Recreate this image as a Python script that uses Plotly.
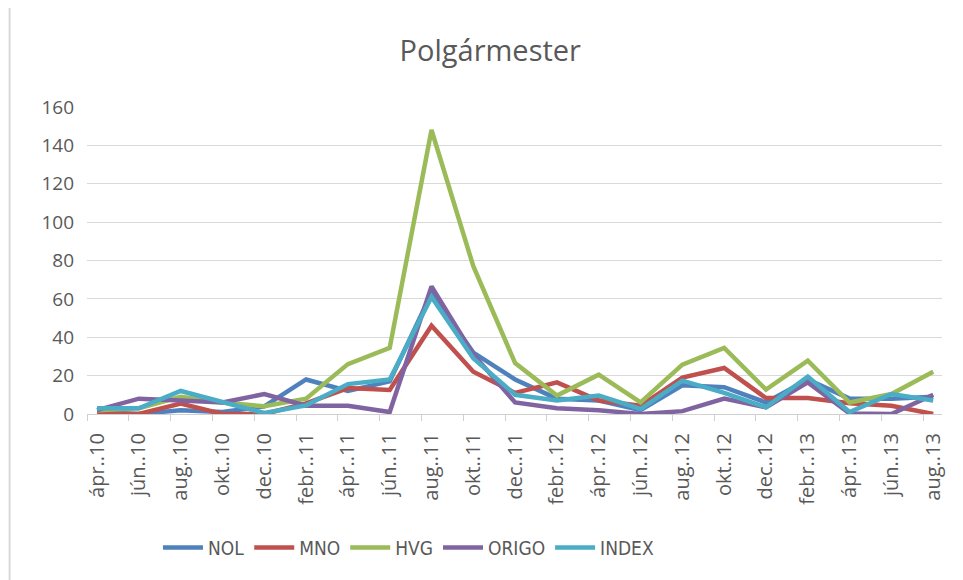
import plotly.graph_objects as go

categories = ["ápr..10", "jún..10", "aug..10", "okt..10", "dec..10", "febr..11", "ápr..11",
              "jún..11", "aug..11", "okt..11", "dec..11", "febr..12", "ápr..12", "jún..12",
              "aug..12", "okt..12", "dec..12", "febr..13", "ápr..13", "jún..13", "aug..13"]

nol = [1, 0, 2, 1, 4, 18, 12, 17, 63, 32, 18, 8, 7, 2, 15, 14, 6, 18, 8, 8, 9]
mno = [0, 0, 5.5, 0, 0, 5.5, 13.5, 12.5, 46, 22, 11, 16.5, 7, 4.3, 19, 24, 8.3, 8.3, 5.6, 4.3, 0]
hvg = [2, 3, 9, 6, 4, 8, 26, 34.5, 148, 77, 26.5, 9.6, 20.5, 6, 25.7, 34.5, 12.7, 27.8, 6, 10.4, 22]
origo = [2, 8, 7, 6, 10.4, 4.3, 4.3, 1, 66.5, 31, 6, 3, 2, 0, 1.5, 8, 3.5, 16.5, 0.3, 0, 10]
index = [3, 3, 12, 6.5, 0.5, 4.5, 15.6, 18, 61, 29, 10, 7, 9.6, 2.6, 17.4, 11, 3.5, 19.5, 1, 10.4, 7]

series_names = ["NOL", "MNO", "HVG", "ORIGO", "INDEX"]
series_values = [nol, mno, hvg, origo, index]
colors = ["#4F81BD", "#C0504D", "#9BBB59", "#8064A2", "#4BACC6"]

xpos = list(range(len(categories)))

fig = go.Figure()
for name, vals, col in zip(series_names, series_values, colors):
    fig.add_trace(go.Scatter(x=xpos, y=vals, mode="lines", name=name,
                             line=dict(color=col, width=4.5)))

txt = "#595959"
fig.update_layout(
    width=955, height=572,
    paper_bgcolor="white", plot_bgcolor="white",
    margin=dict(l=79, r=21, t=99, b=166),
    title=dict(text="Polgármester", x=0.505, xanchor="center", y=0.925, yanchor="middle",
               font=dict(family="Open Sans", size=29, color=txt)),
    showlegend=True,
    legend=dict(orientation="h", x=0.376, xanchor="center", y=-0.435, yanchor="middle",
                font=dict(family="Liberation Sans Narrow, DejaVu Sans Condensed, Arial Narrow, sans-serif",
                          size=19, color=txt),
                itemwidth=40, tracegroupgap=0),
    xaxis=dict(range=[-0.24, 20.21], tickmode="array", tickvals=xpos, ticktext=categories,
               tickangle=-90, showgrid=False, zeroline=False,
               showline=True, linecolor="#d0d0d0", linewidth=1,
               ticks="", ticklabelstandoff=10,
               tickfont=dict(family="Open Sans", size=20, color=txt),
               minor=dict(tick0=-0.24, dtick=1, ticks="outside", ticklen=6,
                          tickcolor="#d0d0d0", showgrid=False)),
    yaxis=dict(range=[0, 160], tickvals=[0, 20, 40, 60, 80, 100, 120, 140, 160],
               showgrid=True, gridcolor="#d9d9d9", gridwidth=1, zeroline=False,
               showline=False, ticks="", ticklabelstandoff=12,
               tickfont=dict(family="Open Sans", size=19, color=txt)),
    shapes=[dict(type="rect", xref="paper", yref="paper",
                 x0=-0.0905, x1=1.2, y0=-0.7, y1=1.326,
                 line=dict(color="#d9d9d9", width=2), fillcolor="rgba(0,0,0,0)", layer="below")],
)

fig.write_html("out.html")
